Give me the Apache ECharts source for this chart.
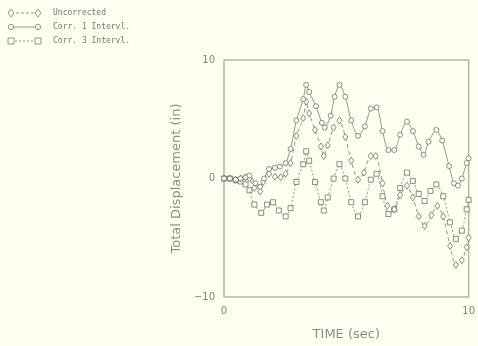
<!DOCTYPE html>
<html><head><meta charset="utf-8">
<script src="https://cdn.jsdelivr.net/npm/echarts@6/dist/echarts.min.js"></script>
<style>html,body{margin:0;padding:0;background:#fffff0}#c{width:478px;height:346px}</style>
</head><body><div id="c"></div>
<script>
const seriesNames = ['Uncorrected', 'Corr. 1 Intervl.', 'Corr. 3 Intervl.'];
const xTicks = [0, 10];
const yTicks = [-10, 0, 10];

const uncorrT = [0,0.24,0.48,0.68,0.88,1.04,1.24,1.48,1.6,1.84,2.08,2.32,2.52,2.72,2.96,3.24,3.36,3.48,3.72,3.96,4.08,4.24,4.48,4.72,4.96,5.2,5.48,5.72,6.0,6.2,6.48,6.68,6.96,7.2,7.48,7.72,7.96,8.2,8.48,8.72,8.96,9.24,9.48,9.72,9.92,10];
const uncorrV = [0,0,-0.1,0,0.1,0,-0.8,-1.1,-0.3,0.4,0.15,0.1,0.4,1.3,3.6,5.1,6.5,5.5,4.1,2.7,1.9,2.8,4.3,4.9,3.5,1.5,-0.1,0.5,1.9,1.9,-0.4,-2.3,-2.6,-1.4,-0.6,-1.6,-3.2,-4.0,-3.1,-2.3,-3.2,-5.7,-7.3,-6.9,-5.8,-5.0];

const corr1T = [0,0.24,0.48,0.68,0.88,1.04,1.28,1.48,1.64,1.84,2.08,2.28,2.52,2.72,2.96,3.24,3.36,3.48,3.76,4.0,4.12,4.36,4.52,4.72,4.96,5.2,5.48,5.76,6.0,6.24,6.48,6.72,6.96,7.2,7.48,7.72,7.96,8.16,8.36,8.68,8.92,9.2,9.4,9.56,9.72,9.92,10];
const corr1V = [0,0,-0.1,0,0.1,0.25,-0.4,-0.7,0,0.8,0.9,1.0,1.3,2.5,4.9,6.7,7.9,7.3,6.1,4.7,4.3,5.3,6.9,7.9,6.9,4.9,3.6,4.4,5.9,6.0,4.0,2.4,2.4,3.7,4.8,4.0,2.7,2.0,3.1,4.1,3.2,1.05,-0.4,-0.6,0,1.3,1.7];

const corr3T = [0,0.24,0.48,0.68,0.88,1.04,1.24,1.52,1.76,2.0,2.24,2.52,2.72,2.96,3.24,3.36,3.48,3.72,3.96,4.08,4.24,4.48,4.72,4.96,5.2,5.48,5.76,6.0,6.24,6.48,6.72,6.96,7.2,7.48,7.72,7.96,8.2,8.44,8.68,8.96,9.24,9.48,9.72,9.92,10];
const corr3V = [0,0,-0.15,-0.25,-0.5,-1.0,-2.2,-2.9,-2.2,-2.0,-2.7,-3.2,-2.5,-0.3,1.2,2.3,1.5,-0.3,-2.0,-2.7,-1.6,0,1.2,0,-2.0,-3.2,-2.0,-0.1,0.4,-1.5,-3.0,-2.6,-0.8,0.5,-0.2,-1.3,-1.9,-1.05,-0.5,-1.5,-3.7,-5.1,-4.4,-2.6,-1.8];

const pair = (t, v) => t.map((x, i) => [x, v[i]]);
const bg = '#fffff0';
const ink = '#7a7a7a';

const chart = echarts.init(document.getElementById('c'));

function legendItem(y, shape, dash, label) {
  const els = [{ type: 'line', shape: { x1: 11, y1: y, x2: 38, y2: y },
    style: { stroke: ink, lineWidth: 0.8, lineDash: dash } }];
  [11, 38].forEach(cx => {
    if (shape === 'diamond') els.push({ type: 'polygon', shape: { points: [[cx, y - 4], [cx + 3, y], [cx, y + 4], [cx - 3, y]] }, style: { fill: bg, stroke: ink, lineWidth: 0.8 } });
    else if (shape === 'circle') els.push({ type: 'circle', shape: { cx: cx, cy: y, r: 2.7 }, style: { fill: bg, stroke: ink, lineWidth: 0.8 } });
    else els.push({ type: 'rect', shape: { x: cx - 3, y: y - 3, width: 6, height: 6 }, style: { fill: bg, stroke: ink, lineWidth: 0.8 } });
  });
  els.push({ type: 'text', x: 53, y: y, style: { text: label, fill: '#777', font: '8px "DejaVu Sans Mono", monospace', verticalAlign: 'middle' } });
  return els;
}

const graphics = [].concat(
  legendItem(13, 'diamond', [3, 2], seriesNames[0]),
  legendItem(27, 'circle', null, seriesNames[1]),
  legendItem(41, 'square', [2, 2], seriesNames[2])
);

function mk(name, data, symbol, size, dash) {
  return {
    name: name, type: 'line', data: data, smooth: 0.25,
    symbol: symbol, symbolSize: size, showAllSymbol: true,
    lineStyle: { color: ink, width: 0.8, type: dash },
    itemStyle: { color: bg, borderColor: '#6e6e6e', borderWidth: 0.8 },
    emphasis: { disabled: true }, animation: false, z: 3
  };
}

chart.setOption({
  backgroundColor: bg,
  animation: false,
  graphic: graphics,
  grid: { left: 224, right: 4, top: 60, bottom: 39, show: true, borderColor: '#b4b4a8', borderWidth: 1.5, backgroundColor: 'transparent' },
  xAxis: {
    type: 'value', min: xTicks[0], max: xTicks[xTicks.length - 1], interval: 10,
    name: 'TIME (sec)', nameLocation: 'middle', nameGap: 31,
    nameTextStyle: { color: '#8c8c8c', fontSize: 13, fontFamily: 'DejaVu Sans' },
    axisLine: { show: false }, axisTick: { show: false }, splitLine: { show: false },
    axisLabel: { color: '#808080', fontSize: 10, margin: 9, fontFamily: 'DejaVu Sans' }
  },
  yAxis: {
    type: 'value', min: yTicks[0], max: yTicks[yTicks.length - 1], interval: 10,
    name: 'Total Displacement (in)', nameLocation: 'middle', nameGap: 36, nameRotate: 90,
    nameTextStyle: { color: '#8c8c8c', fontSize: 13, fontFamily: 'DejaVu Sans' },
    axisLine: { show: false }, axisTick: { show: false }, splitLine: { show: false },
    axisLabel: { color: '#808080', fontSize: 10, margin: 9, fontFamily: 'DejaVu Sans',
      formatter: v => String(v).replace('-', '\u2212') }
  },
  series: [
    mk(seriesNames[2], pair(corr3T, corr3V), 'rect', 5, [2, 2]),
    mk(seriesNames[0], pair(uncorrT, uncorrV), 'diamond', [5, 7], [4, 3]),
    mk(seriesNames[1], pair(corr1T, corr1V), 'circle', 5, 'solid')
  ]
});
</script></body></html>
